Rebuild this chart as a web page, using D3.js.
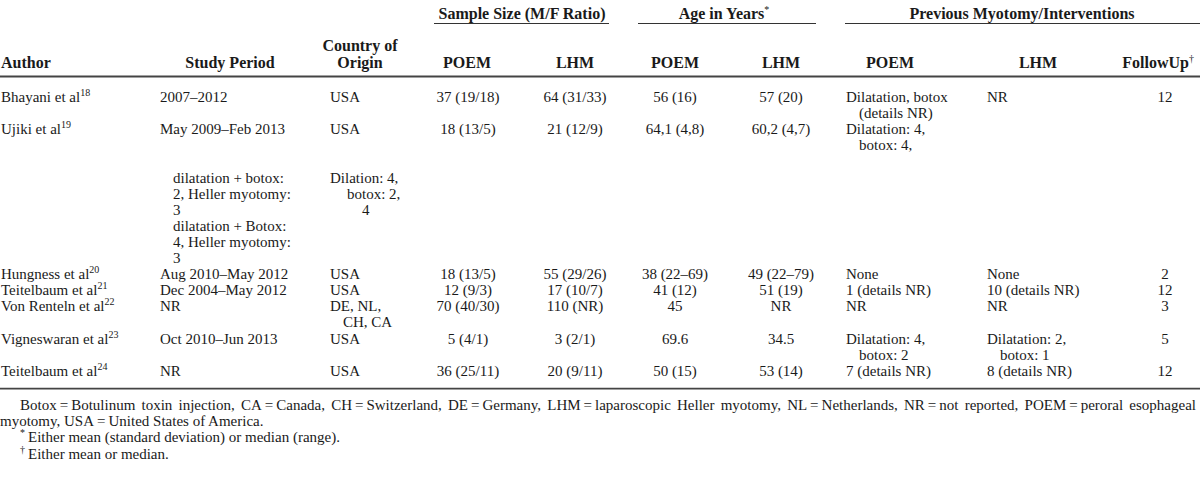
<!DOCTYPE html>
<html><head><meta charset="utf-8">
<script src="https://cdn.jsdelivr.net/npm/d3@7"></script>
<style>body{margin:0;background:#fff} svg{display:block}</style>
</head><body>
<svg id="chart" width="1200" height="484"></svg>
<script>
// ---------- DATA ----------
const authors = ["Bhayani et al","Ujiki et al","","Hungness et al","Teitelbaum et al","Von Renteln et al","Vigneswaran et al","Teitelbaum et al"];
const authorRefs = ["18","19","","20","21","22","23","24"];
const studyPeriod = ["2007–2012","May 2009–Feb 2013","dilatation + botox:\n2, Heller myotomy:\n3\ndilatation + Botox:\n4, Heller myotomy:\n3","Aug 2010–May 2012","Dec 2004–May 2012","NR","Oct 2010–Jun 2013","NR"];
const countryOfOrigin = ["USA","USA","Dilation: 4,\nbotox: 2,\n4","USA","USA","DE, NL,\nCH, CA","USA","USA"];
const sampleSizePOEM = ["37 (19/18)","18 (13/5)","","18 (13/5)","12 (9/3)","70 (40/30)","5 (4/1)","36 (25/11)"];
const sampleSizeLHM = ["64 (31/33)","21 (12/9)","","55 (29/26)","17 (10/7)","110 (NR)","3 (2/1)","20 (9/11)"];
const agePOEM = ["56 (16)","64,1 (4,8)","","38 (22–69)","41 (12)","45","69.6","50 (15)"];
const ageLHM = ["57 (20)","60,2 (4,7)","","49 (22–79)","51 (19)","NR","34.5","53 (14)"];
const previousPOEM = ["Dilatation, botox\n(details NR)","Dilatation: 4,\nbotox: 4,\n","","None","1 (details NR)","NR","Dilatation: 4,\nbotox: 2","7 (details NR)"];
const previousLHM = ["NR","","","None","10 (details NR)","NR","Dilatation: 2,\nbotox: 1","8 (details NR)"];
const followUp = ["12","","","2","12","3","5","12"];

const groupHeaders = ["Sample Size (M/F Ratio)","Age in Years","Previous Myotomy/Interventions"];
const groupHeaderMarks = ["","*",""];
const columnHeaders = ["Author","Study Period","Country of\nOrigin","POEM","LHM","POEM","LHM","POEM","LHM","FollowUp"];
const columnHeaderMarks = ["","","","","","","","","","†"];
const footnoteLines = [
  "Botox\u2009=\u2009Botulinum toxin injection, CA\u2009=\u2009Canada, CH\u2009=\u2009Switzerland, DE\u2009=\u2009Germany, LHM\u2009=\u2009laparoscopic Heller myotomy, NL\u2009=\u2009Netherlands, NR\u2009=\u2009not reported, POEM\u2009=\u2009peroral esophageal",
  "myotomy, USA\u2009=\u2009United States of America."
];
const footnoteMarks = ["*","†"];
const footnoteMarkTexts = ["Either mean (standard deviation) or median (range).","Either mean or median."];

// ---------- LAYOUT ----------
const W = 1200, H = 484;
const FONT = "'Liberation Serif','Times New Roman',serif";
const FS = 15, HFS = 16, SUP = 10, LINE = 16.1, INK = "#1a1a1a";
const columns = [authors, studyPeriod, countryOfOrigin, sampleSizePOEM, sampleSizeLHM, agePOEM, ageLHM, previousPOEM, previousLHM, followUp];
const colLayout = [
  {x:1,    anchor:"start",  hx:1,    hAnchor:"start"},
  {x:160,  anchor:"start",  hx:230,  hAnchor:"middle"},
  {x:330,  anchor:"start",  hx:360,  hAnchor:"middle"},
  {x:468,  anchor:"middle", hx:467,  hAnchor:"middle"},
  {x:575,  anchor:"middle", hx:575,  hAnchor:"middle"},
  {x:675,  anchor:"middle", hx:675,  hAnchor:"middle"},
  {x:781,  anchor:"middle", hx:781,  hAnchor:"middle"},
  {x:846,  anchor:"start",  hx:890,  hAnchor:"middle"},
  {x:987,  anchor:"start",  hx:1038, hAnchor:"middle"},
  {x:1165, anchor:"middle", hx:1194, hAnchor:"end"}
];
const groupLines = [[434,609],[638,816],[845,1200]];
const groupCenters = [522, 724, 1022];
const INDENT = 13;

const svg = d3.select("#chart").style("font-family", FONT).style("fill", INK);

const nLinesPerRow = authors.map((_, i) => d3.max(columns, c => c[i] ? c[i].split("\n").length : 1));
const rowStart = [];
nLinesPerRow.reduce((acc, n, i) => { rowStart[i] = acc; return acc + n; }, 0);
const totalLines = d3.sum(nLinesPerRow);
const yLine = d3.scaleLinear().domain([0, 1]).range([102, 102 + LINE]);

// ---------- HEADERS ----------
const g = svg.append("g").attr("font-size", FS);
groupHeaders.forEach((t, i) => {
  const [a, b] = groupLines[i];
  const tx = g.append("text").attr("x", groupCenters[i]).attr("y", 18.5).attr("text-anchor", "middle").attr("font-weight", "bold").attr("font-size", HFS).text(t);
  if (groupHeaderMarks[i]) tx.append("tspan").attr("dy", -6).attr("font-size", SUP).attr("font-weight", "normal").text(groupHeaderMarks[i]);
  g.append("line").attr("x1", a).attr("x2", b).attr("y1", 23.5).attr("y2", 23.5).attr("stroke", "#333").attr("stroke-width", 1.2);
});
columnHeaders.forEach((t, i) => {
  const lines = t.split("\n");
  const L = colLayout[i];
  lines.forEach((ln, k) => {
    const y = 67.5 - (lines.length - 1 - k) * 17;
    const tx = g.append("text").attr("x", L.hx).attr("y", y).attr("text-anchor", L.hAnchor).attr("font-weight", "bold").attr("font-size", HFS).text(ln);
    if (k === lines.length - 1 && columnHeaderMarks[i]) tx.append("tspan").attr("dy", -6).attr("font-size", SUP).attr("font-weight", "normal").text(columnHeaderMarks[i]);
  });
});
g.append("line").attr("x1", 0).attr("x2", W).attr("y1", 76.5).attr("y2", 76.5).attr("stroke", "#444").attr("stroke-width", 1.8);

// ---------- BODY ----------
columns.forEach((col, ci) => {
  const L = colLayout[ci];
  col.forEach((cell, ri) => {
    if (!cell) return;
    const lines = cell.split("\n");
    lines.forEach((ln, k) => {
      if (!ln) return;
      let x = L.x;
      if (L.anchor === "start") {
        if (authors[ri] === "" && ci === 1) x += INDENT;
        else if (authors[ri] === "" && ci === 2) x += k === 2 ? 32 : (k === 1 ? 17 : 0);
        else if (k > 0) x += INDENT;
      }
      const tx = g.append("text").attr("x", x).attr("y", yLine(rowStart[ri] + k)).attr("text-anchor", L.anchor).text(ln);
      if (ci === 0 && authorRefs[ri]) tx.append("tspan").attr("dy", -6).attr("font-size", SUP).text(authorRefs[ri]);
    });
  });
});
const bottomY = yLine(totalLines - 1) + 13;
g.append("line").attr("x1", 0).attr("x2", W).attr("y1", bottomY).attr("y2", bottomY).attr("stroke", "#444").attr("stroke-width", 1.8);

// ---------- FOOTNOTES ----------
const fy = d3.scaleLinear().domain([0, 1]).range([bottomY + 21.5, bottomY + 21.5 + LINE]);
(function justify(text, x0, x1, y) {
  const words = text.split(" ");
  const nodes = words.map(w => g.append("text").attr("y", y).text(w));
  const widths = nodes.map(n => n.node().getComputedTextLength());
  const gap = (x1 - x0 - d3.sum(widths)) / (words.length - 1);
  let x = x0;
  nodes.forEach((n, i) => { n.attr("x", x); x += widths[i] + gap; });
})(footnoteLines[0], 20, 1196, fy(0));
g.append("text").attr("x", 0).attr("y", fy(1)).text(footnoteLines[1]);
footnoteMarks.forEach((m, i) => {
  const tx = g.append("text").attr("x", 20).attr("y", fy(2 + i));
  tx.append("tspan").attr("dy", -6).attr("font-size", SUP).text(m);
  tx.append("tspan").attr("dy", 6).text("\u2009" + footnoteMarkTexts[i]);
});
</script>
</body></html>
